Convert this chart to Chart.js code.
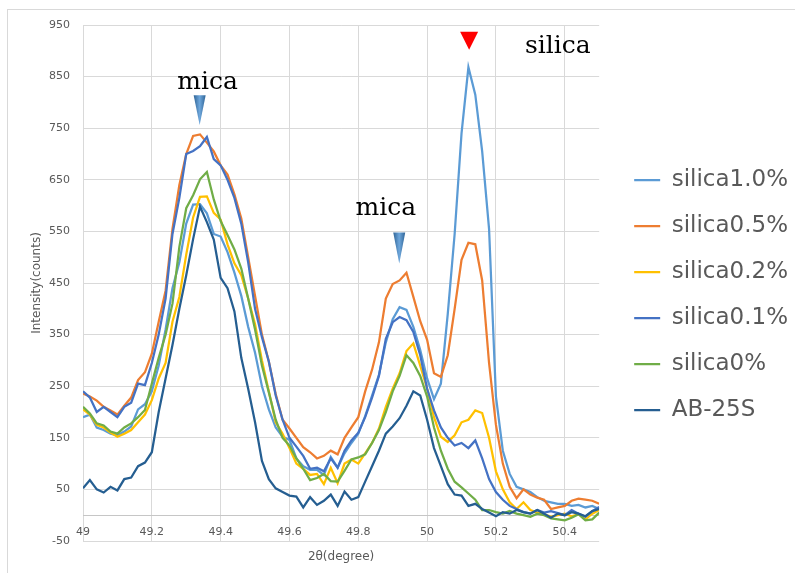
<!DOCTYPE html>
<html><head><meta charset="utf-8">
<script src="https://cdn.jsdelivr.net/npm/chart.js@4/dist/chart.umd.min.js"></script>
<style>
html,body{margin:0;padding:0;background:#fff;overflow:hidden;}
#wrap{position:relative;width:795px;height:573px;overflow:hidden;}
#frame{position:absolute;left:7px;top:9px;width:820px;height:620px;border-left:1px solid #d9d9d9;border-top:1px solid #d9d9d9;}
canvas{position:absolute;left:0;top:0;}
</style></head><body>
<div id="wrap"><div id="frame"></div><canvas id="c" width="795" height="573"></canvas></div>
<script>
// ---- data ----
const xValues = [
49,49.02,49.04,49.06,49.08,49.1,49.12,49.14,49.16,49.18,
49.2,49.22,49.24,49.26,49.28,49.3,49.32,49.34,49.36,49.38,
49.4,49.42,49.44,49.46,49.48,49.5,49.52,49.54,49.56,49.58,
49.6,49.62,49.64,49.66,49.68,49.7,49.72,49.74,49.76,49.78,
49.8,49.82,49.84,49.86,49.88,49.9,49.92,49.94,49.96,49.98,
50,50.02,50.04,50.06,50.08,50.1,50.12,50.14,50.16,50.18,
50.2,50.22,50.24,50.26,50.28,50.3,50.32,50.34,50.36,50.38,
50.4,50.42,50.44,50.46,50.48,50.5];

const silica10 = [
190,195,170,165,158,155,162,172,205,215,
240,290,360,440,490,565,602,603,585,545,
540,510,470,425,365,315,250,205,170,152,
146,110,95,88,88,78,113,92,120,140,
158,192,232,272,335,380,403,398,365,320,
265,225,255,390,545,740,868,815,705,555,
230,125,80,55,50,45,35,28,25,22,
22,18,20,15,18,12];

const silica05 = [
236,230,222,210,203,195,212,228,262,277,
313,375,435,555,640,700,735,738,722,705,
678,660,622,575,500,425,350,298,235,185,
168,150,132,122,110,115,125,118,150,170,
190,240,282,335,420,448,455,470,423,376,
340,275,268,310,400,495,528,525,455,295,
175,100,55,33,50,40,34,30,12,15,
18,28,32,30,28,22];

const silica02 = [
205,195,175,170,160,152,158,165,180,195,
223,265,295,375,423,505,577,617,618,586,
573,525,488,465,420,370,300,240,180,158,
130,100,90,78,80,60,92,62,100,108,
100,120,140,168,210,245,275,318,333,290,
245,190,152,142,155,180,185,203,198,150,
85,50,25,12,25,10,5,2,-3,0,
3,-2,2,-8,3,10];

const silica01 = [
240,228,200,210,200,190,210,218,255,252,
295,350,420,545,615,700,706,715,733,690,
678,650,615,565,490,400,345,298,232,185,
150,133,115,90,92,85,110,92,125,145,
160,190,228,270,342,374,384,378,355,310,
245,203,170,150,135,140,130,145,110,70,
45,30,18,12,6,3,10,5,8,4,
0,10,3,-3,8,16];

const silica0 = [
210,197,178,174,162,158,170,178,190,204,
255,305,350,410,520,595,620,651,665,612,
570,543,515,478,420,360,290,238,185,150,
135,110,90,68,72,80,66,65,86,108,
112,118,140,165,200,240,270,310,295,270,
230,170,125,90,65,54,42,30,10,10,
6,3,8,3,0,-3,3,0,-6,-8,
-10,-5,2,-10,-8,5];

const ab25s = [
52,68,50,44,55,48,70,73,95,102,
122,200,265,330,400,465,535,598,568,534,
460,440,395,305,245,180,105,70,52,45,
38,36,15,35,20,28,40,18,46,30,
35,65,95,125,158,172,188,212,240,232,
185,130,95,60,40,38,18,22,12,5,
-2,6,3,10,6,3,10,3,-5,3,
0,6,3,-2,8,12];

const seriesNames = ['silica1.0%','silica0.5%','silica0.2%','silica0.1%','silica0%','AB-25S'];
const seriesValues = [silica10, silica05, silica02, silica01, silica0, ab25s];

const xTicks = [49,49.2,49.4,49.6,49.8,50,50.2,50.4];
const xTickLabels = ['49','49.2','49.4','49.6','49.8','50','50.2','50.4'];
const yTicks = [-50,0,50,150,250,350,450,550,650,750,850,950];
const yTickLabels = ['-50','','50','150','250','350','450','550','650','750','850','950'];

// annotations (data coordinates)
const noteTexts = ['mica','mica','silica'];
const noteX = [49.362, 49.880, 50.380];
const noteY = [826, 581, 895];
const markerX = [49.339, 49.919, 50.122];
const markerTop = [814, 548, 937];
const markerTip = [756, 488, 902];
const markerKind = ['blue','blue','red'];

// ---- styles ----
const colors = ['#5B9BD5','#ED7D31','#FFC000','#4472C4','#70AD47','#255E91'];
const markerStyle = {
  blue: {width: 12, edge: '#2f6496', mid: '#6ea7dc'},
  red: {width: 18, edge: '#ff0000', mid: '#ff0000'}
};
const tickFont = {family: 'DejaVu Sans', size: 11};
const titleFont = {family: 'DejaVu Sans', size: 12};
const grey = '#595959';

const annoPlugin = {
  id: 'anno',
  afterDatasetsDraw(chart) {
    const ctx = chart.ctx, xs = chart.scales.x, ys = chart.scales.y;
    ctx.save();
    markerX.forEach((mx, i) => {
      const st = markerStyle[markerKind[i]];
      const cx = xs.getPixelForValue(mx);
      const top = ys.getPixelForValue(markerTop[i]);
      const tip = ys.getPixelForValue(markerTip[i]);
      const hw = st.width / 2;
      const g = ctx.createLinearGradient(cx - hw, 0, cx + hw, 0);
      g.addColorStop(0, st.edge); g.addColorStop(0.5, st.mid); g.addColorStop(1, st.edge);
      ctx.beginPath();
      ctx.moveTo(cx - hw, top); ctx.lineTo(cx + hw, top); ctx.lineTo(cx, tip); ctx.closePath();
      ctx.fillStyle = g; ctx.fill();
    });
    ctx.font = '25px "DejaVu Serif"';
    ctx.fillStyle = '#000';
    ctx.textAlign = 'center';
    ctx.textBaseline = 'alphabetic';
    noteTexts.forEach((t, i) => ctx.fillText(t, xs.getPixelForValue(noteX[i]), ys.getPixelForValue(noteY[i])));
    ctx.restore();
  }
};

const datasets = seriesNames.map((name, k) => ({
  label: name,
  data: xValues.map((x, i) => ({x: x, y: seriesValues[k][i]})),
  borderColor: colors[k],
  backgroundColor: colors[k],
  borderWidth: 2.25,
  pointRadius: 0,
  pointHoverRadius: 0,
  tension: 0,
  fill: false,
  order: seriesNames.length - k,
  xAxisID: 'x',
  yAxisID: 'y'
}));

new Chart(document.getElementById('c'), {
  type: 'line',
  data: {datasets},
  plugins: [annoPlugin],
  options: {
    responsive: false,
    devicePixelRatio: 1,
    animation: false,
    events: [],
    layout: {padding: {left: 10, top: 25, right: -3, bottom: 8}},
    scales: {
      x: {
        type: 'linear', axis: 'x', position: 'bottom', min: 49, max: 50.5,
        afterBuildTicks: s => { s.ticks = xTicks.map(v => ({value: v})); },
        afterFit: s => { s.height = 24; },
        grid: {color: '#d9d9d9', lineWidth: 1, drawTicks: false},
        border: {display: false},
        ticks: {mirror: true, padding: 2.4, autoSkip: false, maxRotation: 0, color: grey, font: tickFont,
                callback: (v, i) => xTickLabels[i]},
        title: {display: true, text: '2θ(degree)', color: grey, font: titleFont, padding: {top: 0, bottom: 1}}
      },
      y: {
        type: 'linear', position: 'left', min: -50, max: 950,
        afterBuildTicks: s => { s.ticks = yTicks.map(v => ({value: v})); },
        afterFit: s => { s.width = 73; },
        grid: {color: c => (c.tick && c.tick.value === 0 ? '#c6c6c6' : '#d9d9d9'), lineWidth: 1, drawTicks: false},
        border: {display: false},
        ticks: {padding: 13, color: grey, font: tickFont, callback: (v, i) => yTickLabels[i]},
        title: {display: true, text: 'Intensity(counts)', color: grey, font: titleFont, padding: {top: 20, bottom: 0}}
      },
      gap: {
        type: 'linear', position: 'right', display: true,
        grid: {display: false, drawTicks: false},
        ticks: {display: false},
        border: {display: false},
        afterFit: s => { s.width = 12; }
      }
    },
    plugins: {
      tooltip: {enabled: false},
      legend: {
        position: 'right',
        maxWidth: 260,
        labels: {
          boxWidth: 26, boxHeight: 0, padding: 23, color: grey,
          font: {family: 'DejaVu Sans', size: 23},
          sort: (a, b) => a.datasetIndex - b.datasetIndex
        }
      }
    }
  }
});
</script>
</body></html>
